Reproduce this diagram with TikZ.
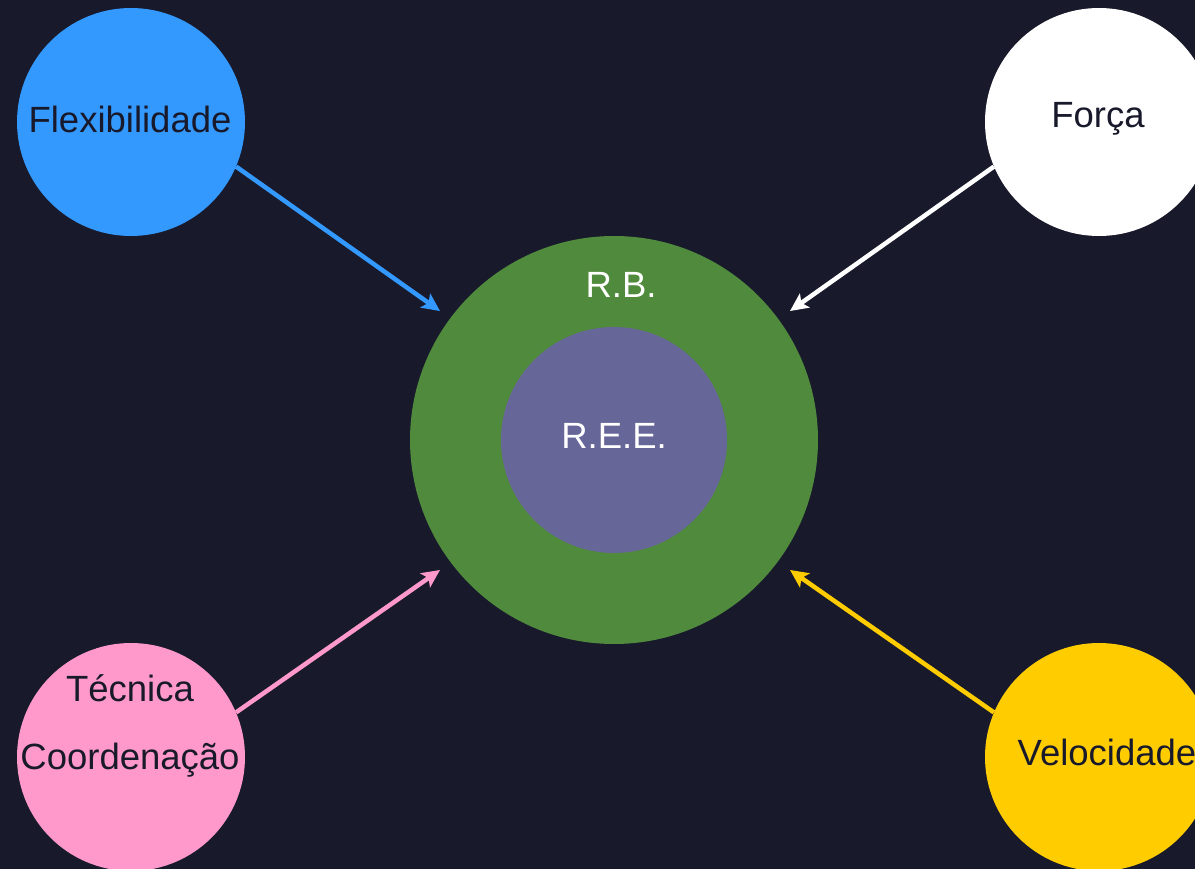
\documentclass[tikz,border=0pt]{standalone}
\usepackage{fontspec}
\setmainfont{Liberation Sans}
\usetikzlibrary{arrows.meta}
\definecolor{navy}{HTML}{181A2C}
\definecolor{flexblue}{HTML}{3399FF}
\definecolor{rbgreen}{HTML}{508A3C}
\definecolor{reepurple}{HTML}{666699}
\definecolor{tecpink}{HTML}{FF99CC}
\definecolor{velyellow}{HTML}{FFCC00}

\begin{document}
\begin{tikzpicture}[x=1pt, y=-1pt,
    bubble/.style={circle, inner sep=0pt, minimum size=228pt},
    lbl/.style={font=\fontsize{36.5}{68}\selectfont, text=navy, inner sep=0pt},
    arr/.style={-{Stealth[length=18pt, width=17pt, inset=4pt]}, line width=4.5pt}]
          \useasboundingbox (0,0) rectangle (1195,869);
          \fill[navy] (0,0) rectangle (1195,869);
          \clip (0,0) rectangle (1195,869);
          % centre
          \node[circle, inner sep=0pt, minimum size=408pt, fill=rbgreen] (rb) at (614,440) {};
          \node[circle, inner sep=0pt, minimum size=226pt, fill=reepurple] (ree) at (614,440) {};
          \node[lbl, text=white] (rbtext) at (621,285) {R.B.};
          \node[lbl, text=white] (reetext) at (614,436) {R.E.E.};
          % corners
          \node[bubble, fill=flexblue] (flex) at (131,122) {};
          \node[bubble, fill=white] (forca) at (1099,122) {};
          \node[bubble, fill=tecpink] (tec) at (131,757) {};
          \node[bubble, fill=velyellow] (vel) at (1099,757) {};
          \node[lbl] (flextext) at (130,119) {Flexibilidade};
          \node[lbl] (forcatext) at (1098,119) {Força};
          \node[lbl, align=center] (tectext) at (130,726) {Técnica\\Coordenação};
          \node[lbl] (veltext) at (1107,752) {Velocidade};
          % arrows
          \coordinate (flexin) at (440,311);
          \coordinate (forcain) at (790,311);
          \coordinate (tecin) at (440,570);
          \coordinate (velin) at (790,570);
          \draw[arr, flexblue] (flex.-23) -- (flexin);
          \draw[arr, white] (forca.-157) -- (forcain);
          \draw[arr, tecpink] (tec.23) -- (tecin);
          \draw[arr, velyellow] (vel.157) -- (velin);
\end{tikzpicture}
\end{document}
